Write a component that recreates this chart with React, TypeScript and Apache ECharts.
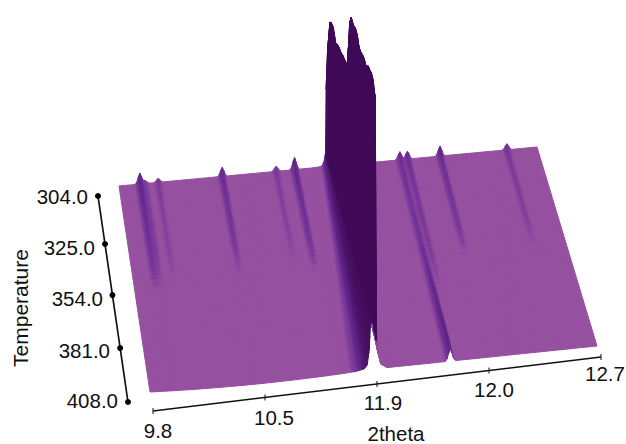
import React, { useEffect, useRef } from "react";
import * as echarts from "echarts";

// ---- Data ----
const thetaTicks = ["9.8", "10.5", "11.9", "12.0", "12.7"];
const temperatureTicks = ["304.0", "325.0", "354.0", "381.0", "408.0"];
const thetaTitle = "2theta";
const temperatureTitle = "Temperature";

// position on the 2theta axis (tick index 0..4) of the small reflections
const ridgePositions = [0.2, 0.25, 0.376, 0.988, 1.504, 1.68, 2.688, 2.76, 3.072, 3.712];
// intensity of each reflection for each of the 33 temperature rows
const ridgeA = [11, 10, 9.4, 8.9, 8.4, 8, 7.6, 7.2, 6.8, 6.4, 6, 5.6, 5.1, 4.5, 3.5, 2.2, 0.8, 0, 0, 0, 0, 0, 0, 0, 0, 0, 0, 0, 0, 0, 0, 0, 0];
const ridgeA2 = [3, 3, 3, 3, 3, 3, 3, 2.9, 2.8, 2.7, 2.6, 2.4, 2.2, 1.9, 1.5, 1, 0.5, 0, 0, 0, 0, 0, 0, 0, 0, 0, 0, 0, 0, 0, 0, 0, 0];
const ridgeB = [4, 3.2, 2.8, 2.5, 2.3, 2.2, 2.1, 2, 1.9, 1.8, 1.7, 1.5, 1.3, 1, 0.6, 0.2, 0, 0, 0, 0, 0, 0, 0, 0, 0, 0, 0, 0, 0, 0, 0, 0, 0];
const ridgeC = [9, 8, 7.2, 6.6, 6.2, 5.8, 5.5, 5.2, 5, 4.7, 4.3, 3.8, 3.1, 2.2, 1.1, 0.3, 0, 0, 0, 0, 0, 0, 0, 0, 0, 0, 0, 0, 0, 0, 0, 0, 0];
const ridgeD = [5, 3.4, 2.8, 2.5, 2.3, 2.2, 2.1, 2, 1.9, 1.8, 1.6, 1.4, 1.1, 0.7, 0.3, 0, 0, 0, 0, 0, 0, 0, 0, 0, 0, 0, 0, 0, 0, 0, 0, 0, 0];
const ridgeE = [12, 10.4, 9.2, 8.4, 7.9, 7.5, 7.1, 6.7, 6.3, 5.9, 5.5, 5, 4.5, 3.8, 2.8, 1.2, 0, 0, 0, 0, 0, 0, 0, 0, 0, 0, 0, 0, 0, 0, 0, 0, 0];
const ridgeF = [8, 7, 6.4, 6, 5.8, 5.6, 5.4, 5.3, 5.2, 5.2, 5.3, 5.4, 5.6, 5.8, 6, 6.3, 6.6, 7, 7.4, 7.9, 8.4, 8.9, 9.4, 9.9, 10.4, 10.9, 11.4, 11.9, 12.4, 12.8, 13, 13, 12];
const ridgeG = [8, 7, 6, 5.4, 5, 4.7, 4.4, 4.2, 4, 3.8, 3.6, 3.4, 3.2, 3, 2.8, 2.5, 2.2, 1.8, 1.4, 1, 0.6, 0.2, 0, 0, 0, 0, 0, 0, 0, 0, 0, 0, 0];
const ridgeH = [10, 8.4, 7.2, 6.5, 6, 5.7, 5.4, 5.1, 4.9, 4.6, 4.3, 3.9, 3.4, 2.7, 1.8, 0.8, 0, 0, 0, 0, 0, 0, 0, 0, 0, 0, 0, 0, 0, 0, 0, 0, 0];
const ridgeI = [6, 4.2, 3.4, 3.1, 2.9, 2.8, 2.7, 2.6, 2.5, 2.4, 2.3, 2.1, 1.8, 1.4, 0.9, 0.3, 0, 0, 0, 0, 0, 0, 0, 0, 0, 0, 0, 0, 0, 0, 0, 0, 0];
const ridgeSeries = [ridgeA, ridgeA2, ridgeB, ridgeC, ridgeD, ridgeE, ridgeF, ridgeG, ridgeH, ridgeI];

// the main reflection at 11.9: crest and the broad foot under it
const mainPosition = 2;
const mainPeak = [86, 133, 157, 163, 160, 157, 161, 167, 171, 173, 177, 181, 184, 187, 187, 213, 246, 257, 255, 261, 265, 261, 260, 263, 266, 270, 273, 273, 278, 282, 284, 275, 0];
const mainFoot = [14, 15, 16, 18, 19, 20, 21, 22, 23, 24, 26, 27, 29, 30, 32, 33, 35, 37, 38, 40, 41, 43, 44, 46, 47, 49, 50, 52, 53, 54, 55, 55, 51];
const mainShift = [-1, -1, -1, -1, -1, -1, -1, -1, -1, -1, -1, -1, -1, -1, -1, -1, -1, -1, -1, -1, -1, -1, -1, -1, -1, -1, -1, -1, 0, 0, 0.5, 1, -1.5];

// line shapes: [offset, relative height]
const coreProfile = [[-1.5, 0], [-1, 0.9], [0, 1], [2, 0.97], [2.5, 0]];
const footProfile = [[-30, 0], [-16, 0.005], [-8, 0.03], [-5, 0.1], [-3, 0.4], [-2, 0.85], [-1, 0.97], [0, 1], [1.5, 0.8], [3, 0.62], [5, 0.33], [8, 0.08], [14, 0]];
const shadeProfile = [[-22, 0], [-15, 0.06], [-10, 0.2], [-6, 0.5], [-3, 0.85], [-1, 1], [0, 1], [3, 1], [3.5, 0]];
const ridgeProfile = [[-5, 0], [-3.2, 0.2], [-1.5, 0.7], [0, 1], [1.5, 0.65], [3.2, 0.2], [5, 0]];
// height -> colour map
const colourStops: [number, number[]][] = [[0, [150, 80, 160]], [2, [126, 60, 155]], [8, [98, 38, 140]], [30, [78, 22, 108]], [60, [64, 10, 88]]];

// ---- Projection ----
const backLeft = [119, 186], backRight = [537, 147], frontLeft = [150, 392], frontRight = [597, 346];
const PX = 430;
const rowCount = mainPeak.length;
const lerp = (a: number, b: number, f: number) => a + (b - a) * f;
function project(s: number, t: number, h: number) {
  const bx = lerp(backLeft[0], backRight[0], s), by = lerp(backLeft[1], backRight[1], s);
  const fx = lerp(frontLeft[0], frontRight[0], s), fy = lerp(frontLeft[1], frontRight[1], s);
  const bow = s < 0.5 ? 48 * s * (0.5 - s) * t * t : 0;
  return [lerp(bx, fx, t), lerp(by, fy, t) - h + bow];
}
function shape(p: number[][], x: number) {
  if (x <= p[0][0] || x >= p[p.length - 1][0]) return 0;
  for (let i = 1; i < p.length; i++) {
    if (x <= p[i][0]) return lerp(p[i - 1][1], p[i][1], (x - p[i - 1][0]) / (p[i][0] - p[i - 1][0]));
  }
  return 0;
}
const columnSet = new Set<number>();
for (let i = 0; i <= 25; i++) columnSet.add(i / 25);
ridgePositions.forEach((pos) => ridgeProfile.forEach(([o]) => columnSet.add(pos / 4 + o / PX)));
for (let o = -30; o <= 16; o += 1) columnSet.add(mainPosition / 4 + o / PX);
for (let o = -5; o <= 5; o += 0.5) columnSet.add(mainPosition / 4 + o / PX);
const columns = Array.from(columnSet).filter((s) => s >= 0 && s <= 1).sort((a, b) => a - b);

const footAt = (s: number, row: number) => mainFoot[row] * shape(footProfile, (s - mainPosition / 4) * PX + 1);
function height(s: number, row: number) {
  const d = (s - mainPosition / 4) * PX - mainShift[row];
  let h = Math.max(mainPeak[row] * shape(coreProfile, d), footAt(s, row));
  ridgePositions.forEach((pos, k) => {
    h += ridgeSeries[k][row] * shape(ridgeProfile, (s - pos / 4) * PX);
  });
  return h;
}
function shade(s: number, row: number) {
  const t = row / (rowCount - 1);
  const d = (s - mainPosition / 4) * PX + 1;
  return 60 * shape(shadeProfile, d < 0 ? d / (0.25 + 0.75 * t) : d);
}
function colour(h: number) {
  for (let i = 1; i < colourStops.length; i++) {
    if (h <= colourStops[i][0]) {
      const f = (h - colourStops[i - 1][0]) / (colourStops[i][0] - colourStops[i - 1][0]);
      const a = colourStops[i - 1][1], b = colourStops[i][1];
      return `rgb(${Math.round(lerp(a[0], b[0], f))},${Math.round(lerp(a[1], b[1], f))},${Math.round(lerp(a[2], b[2], f))})`;
    }
  }
  const c = colourStops[colourStops.length - 1][1];
  return `rgb(${c[0]},${c[1]},${c[2]})`;
}
const cells: number[][] = [];
for (let r = 0; r < rowCount - 1; r++) for (let c = 0; c < columns.length - 1; c++) cells.push([r, c]);

// axis layout
const tempAxisFrom = [98, 196], tempAxisTo = [128, 402];
const tempFractions = [0, 0.233, 0.481, 0.738, 1];
const tempLabelRight = [88, 95, 103, 110, 118];
const tempLabelY = [196, 247, 298, 350, 400];
const thetaAxisFrom = [153, 411], thetaAxisTo = [601, 357];
const thetaLabelX = [158, 274, 383, 494, 605];
const thetaLabelY = [430, 417, 402, 389, 373];
const FONT = '20.5px "Liberation Sans", Arial, sans-serif';

export default function App() {
  const ref = useRef<HTMLDivElement>(null);
  useEffect(() => {
    document.body.style.margin = "0";
    const chart = echarts.init(ref.current!, undefined, { renderer: "svg" });
    chart.setOption({
      animation: false,
      backgroundColor: "#ffffff",
      grid: { left: 0, right: 0, top: 0, bottom: 0 },
      xAxis: { type: "value", min: 0, max: 626, show: false },
      yAxis: { type: "value", min: 0, max: 444, inverse: true, show: false },
      series: [
        {
          type: "custom",
          coordinateSystem: "cartesian2d",
          clip: false,
          silent: true,
          progressive: 0,
          data: cells,
          renderItem: (_: any, api: any) => {
            const r = api.value(0), c = api.value(1);
            const s0 = columns[c], s1 = columns[c + 1];
            const t0 = r / (rowCount - 1), t1 = (r + 1) / (rowCount - 1);
            const h00 = height(s0, r), h10 = height(s1, r), h01 = height(s0, r + 1), h11 = height(s1, r + 1);
            const pts = [project(s0, t0, h00), project(s1, t0, h10), project(s1, t1, h11), project(s0, t1, h01)].map((p) => api.coord(p));
            const ridgeOnly = (h: number, s: number, row: number) => Math.max(h - footAt(s, row), shade(s, row), 0);
            const col = colour((ridgeOnly(h00, s0, r) + ridgeOnly(h10, s1, r) + ridgeOnly(h01, s0, r + 1) + ridgeOnly(h11, s1, r + 1)) / 4);
            return { type: "polygon", shape: { points: pts }, style: { fill: col, stroke: col, lineWidth: 1, lineJoin: "round" } };
          },
        },
        {
          type: "custom",
          coordinateSystem: "cartesian2d",
          clip: false,
          silent: true,
          data: [[0, 0]],
          renderItem: (_: any, api: any) => {
            const children: any[] = [];
            const c = (p: number[]) => api.coord(p);
            const a = c(tempAxisFrom), b = c(tempAxisTo);
            children.push({ type: "line", shape: { x1: a[0], y1: a[1], x2: b[0], y2: b[1] }, style: { stroke: "#111", lineWidth: 1.7 } });
            temperatureTicks.forEach((label, i) => {
              const p = c([lerp(tempAxisFrom[0], tempAxisTo[0], tempFractions[i]), lerp(tempAxisFrom[1], tempAxisTo[1], tempFractions[i])]);
              children.push({ type: "circle", shape: { cx: p[0], cy: p[1], r: 3 }, style: { fill: "#000" } });
              const q = c([tempLabelRight[i], tempLabelY[i]]);
              children.push({ type: "text", style: { text: label, x: q[0], y: q[1], font: FONT, fill: "#111", align: "right", verticalAlign: "middle" } });
            });
            const d = c(thetaAxisFrom), e = c(thetaAxisTo);
            children.push({ type: "line", shape: { x1: d[0], y1: d[1], x2: e[0], y2: e[1] }, style: { stroke: "#111", lineWidth: 1.5 } });
            thetaTicks.forEach((label, i) => {
              const f = i / (thetaTicks.length - 1);
              const p = c([lerp(thetaAxisFrom[0], thetaAxisTo[0], f), lerp(thetaAxisFrom[1], thetaAxisTo[1], f)]);
              children.push({ type: "line", shape: { x1: p[0], y1: p[1] - 3, x2: p[0], y2: p[1] + 3 }, style: { stroke: "#111", lineWidth: 1 } });
              const q = c([thetaLabelX[i], thetaLabelY[i]]);
              children.push({ type: "text", style: { text: label, x: q[0], y: q[1], font: FONT, fill: "#111", align: "center", verticalAlign: "middle" } });
            });
            const t1 = c([396, 433]);
            children.push({ type: "text", style: { text: thetaTitle, x: t1[0], y: t1[1], font: FONT, fill: "#111", align: "center", verticalAlign: "middle" } });
            const t2 = c([20, 308]);
            children.push({ type: "text", x: t2[0], y: t2[1], rotation: Math.PI / 2, style: { text: temperatureTitle, x: 0, y: 0, font: '21px "Liberation Sans", Arial, sans-serif', fill: "#111", align: "center", verticalAlign: "middle" } });
            return { type: "group", children };
          },
        },
      ],
    });
    return () => chart.dispose();
  }, []);
  return <div ref={ref} style={{ width: 626, height: 444, position: "absolute", left: 0, top: 0 }} />;
}
